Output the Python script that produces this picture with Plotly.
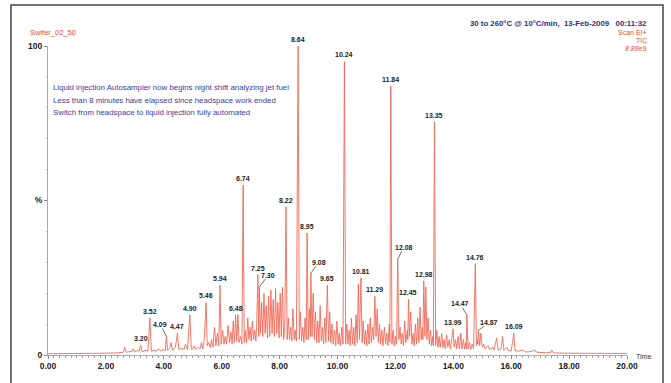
import plotly.graph_objects as go

# ---------------- data (retention time, % of base peak) -------------
rt_a = [0.00, 0.5, 1.0, 1.5, 2.0, 2.4, 2.6, 2.65, 2.7, 2.9, 2.95, 3.0, 3.1, 3.15, 3.2, 3.25,
        3.35, 3.45, 3.52, 3.57, 3.65, 3.75, 3.8, 3.9, 4.0, 4.05, 4.09, 4.13, 4.2, 4.25, 4.3,
        4.4, 4.47, 4.52, 4.6, 4.7, 4.75, 4.82, 4.90, 4.95]
pct_a = [0.4, 0.4, 0.5, 0.5, 0.6, 0.7, 0.9, 2.5, 0.9, 1.2, 2.0, 1.0, 1.5, 1.2, 3.2, 1.0,
         1.5, 1.2, 12.0, 1.2, 1.5, 1.3, 2.0, 1.3, 1.8, 1.4, 6.0, 1.5, 2.0, 4.0, 1.5,
         2.5, 7.0, 1.8, 2.2, 1.8, 3.5, 1.8, 13.0, 1.8]

rt_b = [5.0, 5.05, 5.1, 5.2, 5.25, 5.3, 5.35, 5.4, 5.46, 5.5, 5.55, 5.6, 5.65, 5.7, 5.75,
        5.8, 5.85, 5.9, 5.94, 5.98, 6.03, 6.08, 6.12, 6.17, 6.22, 6.27, 6.32, 6.36, 6.4,
        6.44, 6.48, 6.52, 6.56, 6.6, 6.65, 6.7, 6.74, 6.78]
pct_b = [2.0, 3.0, 1.8, 2.5, 2.0, 4.0, 2.0, 5.5, 17.0, 3.0, 4.0, 2.5, 5.0, 2.5, 9.0,
         3.0, 7.0, 3.0, 22.6, 3.5, 8.0, 3.5, 6.0, 3.5, 9.5, 4.0, 7.5, 3.5, 11.0,
         4.0, 13.0, 4.5, 13.0, 4.0, 6.0, 3.5, 55.0, 4.0]

rt_c = [6.82, 6.86, 6.9, 6.94, 6.98, 7.02, 7.06, 7.1, 7.14, 7.18, 7.21, 7.25, 7.28, 7.30,
        7.34, 7.38, 7.42, 7.46, 7.5, 7.54, 7.58, 7.62, 7.66, 7.7, 7.74, 7.78, 7.82, 7.86,
        7.9, 7.94, 7.98, 8.02, 8.06, 8.1, 8.14, 8.18, 8.22, 8.26]
pct_c = [8.0, 4.0, 12.0, 5.0, 9.0, 4.5, 11.0, 5.0, 8.0, 4.5, 10.0, 26.0, 6.0, 22.0,
         7.0, 17.0, 6.0, 20.0, 7.0, 16.0, 5.5, 19.0, 6.0, 21.0, 7.0, 18.0, 6.0, 21.5,
         7.0, 17.0, 5.5, 20.0, 6.0, 22.0, 5.0, 9.0, 48.0, 5.0]

rt_d = [8.3, 8.34, 8.38, 8.42, 8.46, 8.5, 8.54, 8.58, 8.64, 8.68, 8.72, 8.76, 8.8, 8.84,
        8.88, 8.92, 8.95, 8.99, 9.03, 9.06, 9.08, 9.12, 9.16, 9.2, 9.24, 9.28, 9.32, 9.36,
        9.4, 9.44, 9.48, 9.52, 9.56, 9.6, 9.65, 9.69, 9.73, 9.77, 9.81, 9.85, 9.9, 9.94,
        9.98, 10.02, 10.06, 10.1, 10.15, 10.19, 10.24, 10.28]
pct_d = [12.0, 5.0, 9.0, 4.5, 15.0, 5.0, 8.0, 4.5, 100.0, 5.0, 14.0, 4.5, 9.0, 4.0,
         12.0, 5.0, 39.5, 5.0, 15.0, 6.0, 26.5, 6.0, 20.0, 5.0, 14.0, 4.0, 11.0, 4.0,
         16.0, 4.5, 9.0, 3.5, 12.0, 4.0, 22.6, 4.5, 14.0, 4.0, 10.0, 3.5, 8.0, 3.0,
         11.0, 3.5, 7.0, 3.0, 9.0, 3.5, 95.0, 3.5]

rt_e = [10.32, 10.36, 10.4, 10.44, 10.48, 10.52, 10.56, 10.6, 10.64, 10.68, 10.72, 10.76,
        10.81, 10.85, 10.89, 10.93, 10.97, 11.01, 11.05, 11.09, 11.13, 11.17, 11.21, 11.25,
        11.29, 11.33, 11.37, 11.41, 11.45, 11.49, 11.53, 11.57, 11.62, 11.66, 11.7, 11.74,
        11.79, 11.81, 11.84, 11.88]
pct_e = [10.0, 3.5, 8.0, 3.0, 12.0, 3.5, 9.0, 3.0, 13.0, 4.0, 23.0, 5.0,
         25.0, 4.0, 11.0, 3.5, 8.0, 3.0, 10.0, 3.5, 12.0, 4.0, 9.0, 5.0,
         19.0, 6.0, 15.0, 4.0, 10.0, 3.5, 8.0, 3.0, 9.0, 3.5, 7.0, 3.0,
         10.0, 4.0, 87.0, 3.5]

rt_f = [11.92, 11.96, 12.0, 12.04, 12.08, 12.12, 12.16, 12.2, 12.24, 12.28, 12.32, 12.36,
        12.41, 12.43, 12.45, 12.49, 12.53, 12.57, 12.61, 12.65, 12.69, 12.73, 12.77, 12.81,
        12.85, 12.89, 12.93, 12.95, 12.98, 13.02, 13.05, 13.09, 13.13, 13.17, 13.21, 13.25,
        13.29, 13.31, 13.35, 13.39]
pct_f = [8.0, 3.0, 6.0, 3.5, 31.0, 5.0, 9.0, 3.5, 7.0, 3.0, 11.0, 4.0,
         8.0, 5.0, 18.0, 6.0, 14.0, 3.5, 7.0, 3.0, 10.0, 3.5, 12.0, 4.0,
         15.5, 5.0, 9.0, 5.0, 24.0, 6.0, 22.0, 5.0, 12.0, 3.5, 8.0, 3.0,
         6.0, 3.0, 75.5, 3.0]

rt_g = [13.43, 13.47, 13.51, 13.55, 13.6, 13.64, 13.68, 13.72, 13.77, 13.81, 13.86, 13.9,
        13.99, 14.03, 14.08, 14.12, 14.17, 14.21, 14.26, 14.3, 14.35, 14.39, 14.43, 14.45,
        14.47, 14.51, 14.56, 14.6, 14.65, 14.7, 14.76, 14.8, 14.83, 14.85, 14.87, 14.91,
        14.95, 15.0, 15.05, 15.1, 15.2, 15.25, 15.35, 15.4, 15.5, 15.55, 15.65, 15.7, 15.75,
        15.85, 15.9, 16.0, 16.09, 16.13, 16.25, 16.4, 16.5, 16.6, 16.75, 16.8, 16.85, 17.0,
        17.2, 17.35, 17.4, 17.45, 17.8, 18.5, 19.0, 19.5, 20.0]
pct_g = [8.0, 2.5, 6.0, 2.5, 7.0, 2.5, 5.0, 2.0, 6.5, 2.5, 5.0, 2.0,
         8.5, 2.5, 5.0, 2.0, 6.0, 2.0, 7.0, 2.0, 5.0, 2.0, 4.0, 2.0,
         13.0, 2.0, 4.0, 1.8, 3.5, 2.0, 29.5, 3.0, 5.0, 3.5, 8.0, 3.0,
         7.0, 2.5, 3.5, 2.0, 3.0, 1.8, 2.5, 1.6, 5.5, 1.6, 2.0, 6.0, 1.5,
         2.5, 1.5, 1.4, 7.0, 1.5, 1.2, 1.6, 1.0, 1.0, 1.3, 1.8, 1.0, 0.8,
         0.7, 0.7, 1.6, 0.7, 0.6, 0.5, 0.5, 0.5, 0.5]

rt_min = rt_a + rt_b + rt_c + rt_d + rt_e + rt_f + rt_g
tic_pct = pct_a + pct_b + pct_c + pct_d + pct_e + pct_f + pct_g

# labelled peaks
label_rt = [3.20, 3.52, 4.09, 4.47, 4.90, 5.46, 5.94, 6.48, 6.74, 7.25, 7.30, 8.22, 8.64,
            8.95, 9.08, 9.65, 10.24, 10.81, 11.29, 11.84, 12.08, 12.45, 12.98, 13.35,
            13.99, 14.47, 14.76, 14.87, 16.09]
label_text = ["3.20", "3.52", "4.09", "4.47", "4.90", "5.46", "5.94", "6.48", "6.74", "7.25",
              "7.30", "8.22", "8.64", "8.95", "9.08", "9.65", "10.24", "10.81", "11.29",
              "11.84", "12.08", "12.45", "12.98", "13.35", "13.99", "14.47", "14.76",
              "14.87", "16.09"]

x_ticks = [0, 2, 4, 6, 8, 10, 12, 14, 16, 18, 20]
y_tickvals = [0, 50, 100]
y_ticktext = ["0", "%", "100"]

header_text = "30 to 260°C @ 10°C/min,  13-Feb-2009   00:11:32"
sample_name = "Swifer_02_50"
scan_lines = ["Scan EI+", "TIC", "8.88e9"]
note_lines = ["Liquid injection Autosampler now begins night shift analyzing jet fuel",
              "Less than 8 minutes have elapsed since headspace work ended",
              "Switch from headspace to liquid injection fully automated"]

# ---------------- layout geometry (pixels) -------------
W, H = 671, 383
L, R, T, B = 48, 44, 46, 28
PW, PH = W - L - R, H - T - B


def px(xp):
    return (xp - L) / PW


def py(yp):
    return (H - B - yp) / PH


FONT = "Liberation Sans, Arial, sans-serif"
LINE_RED = "#f26a58"
BLUE = "#3d3d9e"
NAVY = "#2b2f8c"

fig = go.Figure()
fig.add_trace(go.Scatter(x=rt_min, y=tic_pct, mode="lines",
                         line=dict(color=LINE_RED, width=0.9), hoverinfo="skip",
                         showlegend=False))

# peak labels
leader = {4.09: (-6, -12), 7.30: (9, -12), 9.08: (8, -11), 12.08: (6, -12),
          14.47: (-7, -11), 14.87: (11, -8)}
lookup = dict(zip(rt_min, tic_pct))
for t, txt in zip(label_rt, label_text):
    h = lookup[t]
    if t in leader:
        ax, ay = leader[t]
        fig.add_annotation(x=t, y=h, text=txt, showarrow=True, arrowhead=0,
                           arrowwidth=0.7, arrowcolor="#333", ax=ax, ay=ay,
                           standoff=0, borderpad=0,
                           font=dict(family=FONT, size=7, color="#222", weight="bold"))
    else:
        fig.add_annotation(x=t, y=h, text=txt, showarrow=False, yanchor="bottom",
                           yshift=1, font=dict(family=FONT, size=7, color="#222",
                                               weight="bold"))

# texts
fig.add_annotation(xref="paper", yref="paper", x=px(28), y=py(33), text=sample_name,
                   showarrow=False, xanchor="left", yanchor="middle",
                   font=dict(family=FONT, size=7.5, color="#f04a3a"))
fig.add_annotation(xref="paper", yref="paper", x=px(649), y=py(24), text=header_text,
                   showarrow=False, xanchor="right", yanchor="middle",
                   font=dict(family=FONT, size=7.8, color=NAVY, weight="bold"))
for i, s in enumerate(scan_lines):
    fig.add_annotation(xref="paper", yref="paper", x=px(649), y=py(33 + 7.7 * i), text=s,
                       showarrow=False, xanchor="right", yanchor="middle",
                       font=dict(family=FONT, size=7, color="#f04a3a",
                                 style="italic" if i == 2 else "normal"))
for i, s in enumerate(note_lines):
    fig.add_annotation(xref="paper", yref="paper", x=px(51), y=py(87.5 + 12.5 * i), text=s,
                       showarrow=False, xanchor="left", yanchor="middle",
                       font=dict(family=FONT, size=7.85, color=BLUE))
fig.add_annotation(xref="paper", yref="paper", x=px(634), y=py(356), text="Time",
                   showarrow=False, xanchor="left", yanchor="middle",
                   font=dict(family=FONT, size=7, color="#333"))

# outer frame
fig.add_shape(type="rect", xref="paper", yref="paper", x0=px(11), x1=px(663),
              y0=py(400), y1=py(5), line=dict(color="#444", width=1.5), layer="below")

fig.update_layout(
    width=W, height=H, margin=dict(l=L, r=R, t=T, b=B),
    paper_bgcolor="white", plot_bgcolor="white",
    xaxis=dict(range=[0, 20], tickvals=x_ticks, tickformat=".2f", showgrid=False,
               zeroline=False, showline=True, linecolor="#aaa", linewidth=1,
               ticks="outside", ticklen=3, tickcolor="#888",
               minor=dict(dtick=0.2, ticks="outside", ticklen=2, tickcolor="#999"),
               tickfont=dict(family=FONT, size=8.5, color="#222", weight="bold")),
    yaxis=dict(range=[0, 100], tickvals=y_tickvals, ticktext=y_ticktext, showgrid=False,
               zeroline=False, showline=True, linecolor="#aaa", linewidth=1,
               ticks="outside", ticklen=3, tickcolor="#888",
               minor=dict(dtick=10, ticks="outside", ticklen=1.5, tickcolor="#aaa"),
               tickfont=dict(family=FONT, size=8.5, color="#222", weight="bold")),
)

fig.write_html("out.html")
